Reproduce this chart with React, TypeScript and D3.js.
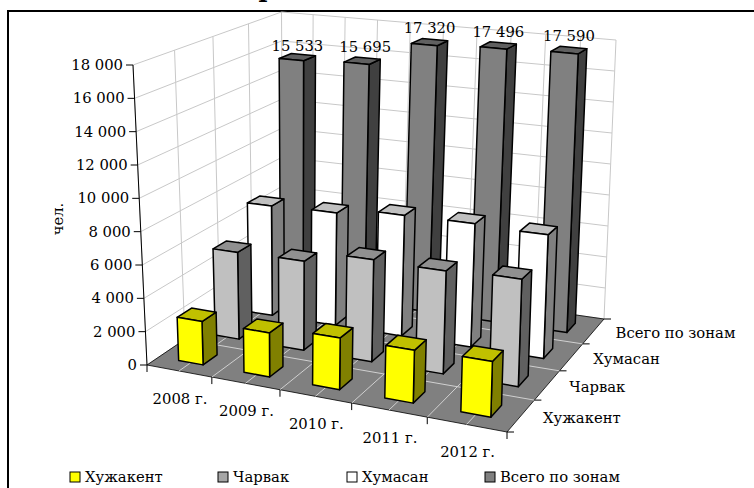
import React from 'react';
import * as d3 from 'd3';

const years = ['2008 г.', '2009 г.', '2010 г.', '2011 г.', '2012 г.'];
const zones = ['Хужакент', 'Чарвак', 'Хумасан', 'Всего по зонам'];
const khuzhakent = [2600, 2600, 3000, 3000, 3100];
const charvak = [5400, 5450, 6150, 6100, 6250];
const khumasan = [7050, 7150, 7550, 7600, 7500];
const total = [15533, 15695, 17320, 17496, 17590];
const series = [khuzhakent, charvak, khumasan, total];
const yTicks = d3.range(0, 18001, 2000);
const legendX = [70, 218, 347, 485];
// the value labels do not sit quite evenly above their bars
const labelDx = [0, 3, 0, 0, 0];
const labelDy = [3, 0, 0, 1, 0];

const colors = [
  { front: '#ffff00', top: '#c0c000', side: '#808000' },
  { front: '#c0c0c0', top: '#909090', side: '#606060' },
  { front: '#ffffff', top: '#c0c0c0', side: '#808080' },
  { front: '#808080', top: '#606060', side: '#404040' },
];
const legendColors = ['#ffff00', '#a6a6a6', '#ffffff', '#808080'];
const FONT = '"DejaVu Serif", serif';
const TEXT = 14.8;

type Pt = [number, number];

// homography from the unit square to four picture corners
function squareToQuad(p00: Pt, p10: Pt, p11: Pt, p01: Pt) {
  const dx1 = p10[0] - p11[0], dx2 = p01[0] - p11[0], sx = p00[0] - p10[0] + p11[0] - p01[0];
  const dy1 = p10[1] - p11[1], dy2 = p01[1] - p11[1], sy = p00[1] - p10[1] + p11[1] - p01[1];
  const den = dx1 * dy2 - dx2 * dy1;
  const g = (sx * dy2 - dx2 * sy) / den;
  const h = (dx1 * sy - sx * dy1) / den;
  const a = p10[0] - p00[0] + g * p10[0], b = p01[0] - p00[0] + h * p01[0], c = p00[0];
  const d = p10[1] - p00[1] + g * p10[1], e = p01[1] - p00[1] + h * p01[1], f = p00[1];
  return (u: number, v: number): Pt => {
    const w = g * u + h * v + 1;
    return [(a * u + b * v + c) / w, (d * u + e * v + f) / w];
  };
}

const floorMap = squareToQuad([147, 365], [507, 432], [604, 319], [283, 273]);
const ceilMap = squareToQuad([133, 65], [516, 102], [616, 40], [281.5, 12]);

const uScale = d3.scaleLinear().domain([0, years.length]).range([0, 1]);
const vScale = d3.scaleLinear().domain([0, zones.length]).range([0, 1]);
const zScale = d3.scaleLinear().domain([0, 18000]).range([0, 1]);

// category units, series units, value -> screen
function project(cat: number, ser: number, val: number): Pt {
  const u = uScale(cat), v = vScale(ser), t = zScale(val);
  const a = floorMap(u, v), b = ceilMap(u, v);
  return [a[0] + (b[0] - a[0]) * t, a[1] + (b[1] - a[1]) * t];
}

const poly = (pts: Pt[]) => d3.line()(pts) + 'Z';
const num = (v: number) => d3.format(',')(v).replace(',', ' ');

const GAP = 0.31;

export default function App() {
  const bars: React.ReactNode[] = [];
  const labels: React.ReactNode[] = [];
  for (let s = zones.length - 1; s >= 0; s--) {
    series[s].forEach((val, c) => {
      const x0 = c + GAP, x1 = c + 1 - GAP, y0 = s + GAP, y1 = s + 1 - GAP;
      const c0 = colors[s];
      bars.push(
        <g key={`${s}-${c}`} stroke="#000" strokeWidth={1.5} strokeLinejoin="round">
          <path d={poly([project(x1, y0, 0), project(x1, y1, 0), project(x1, y1, val), project(x1, y0, val)])} fill={c0.side} />
          <path d={poly([project(x0, y0, val), project(x1, y0, val), project(x1, y1, val), project(x0, y1, val)])} fill={c0.top} />
          <path d={poly([project(x0, y0, 0), project(x1, y0, 0), project(x1, y0, val), project(x0, y0, val)])} fill={c0.front} />
        </g>
      );
      if (s === 3) {
        const p = project(c + 0.5, s + 0.5, val);
        labels.push(
          <text key={c} x={p[0] + labelDx[c]} y={p[1] - 9 + labelDy[c]} textAnchor="middle" fontSize={TEXT} fill="#000">
            {num(val)}
          </text>
        );
      }
    });
  }

  const nc = years.length, ns = zones.length;
  const grid = '#c8c8c8';

  return (
    <svg width={754} height={488} style={{ position: 'absolute', left: 0, top: 0 }} fontFamily={FONT}>
      <rect width={754} height={488} fill="#fff" />
      {/* the title is cut by the picture's top edge, only this descender shows */}
      <text x={267} y={-3} textAnchor="middle" fontSize={24} fontWeight="bold">р</text>
      <path d="M8,488V11H754" fill="none" stroke="#000" strokeWidth={2} />

      {/* walls */}
      {yTicks.map(t => (
        <path key={t} stroke={grid} fill="none" d={d3.line()([project(0, 0, t), project(0, ns, t), project(nc, ns, t)]) || ''} />
      ))}
      {d3.range(0, nc + 0.5, 0.5).map(c => (
        <line key={c} stroke={grid} x1={project(c, ns, 0)[0]} y1={project(c, ns, 0)[1]} x2={project(c, ns, 18000)[0]} y2={project(c, ns, 18000)[1]} />
      ))}
      {d3.range(0, ns).map(s => (
        <line key={s} stroke={grid} x1={project(0, s, 0)[0]} y1={project(0, s, 0)[1]} x2={project(0, s, 18000)[0]} y2={project(0, s, 18000)[1]} />
      ))}

      {/* floor */}
      <path d={poly([project(0, 0, 0), project(nc, 0, 0), project(nc, ns, 0), project(0, ns, 0)])} fill="#808080" stroke="#000" strokeWidth={0.8} />
      {d3.range(0.5, nc, 0.5).map(c => (
        <line key={c} stroke="#d0d0d0" x1={project(c, 0, 0)[0]} y1={project(c, 0, 0)[1]} x2={project(c, ns, 0)[0]} y2={project(c, ns, 0)[1]} />
      ))}
      {d3.range(1, ns).map(s => (
        <line key={s} stroke="#d0d0d0" x1={project(0, s, 0)[0]} y1={project(0, s, 0)[1]} x2={project(nc, s, 0)[0]} y2={project(nc, s, 0)[1]} />
      ))}

      {/* value axis */}
      <line x1={project(0, 0, 0)[0]} y1={project(0, 0, 0)[1]} x2={project(0, 0, 18000)[0]} y2={project(0, 0, 18000)[1]} stroke="#000" />
      {yTicks.map(t => {
        const p = project(0, 0, t);
        return (
          <g key={t}>
            <line x1={p[0] - 7} x2={p[0]} y1={p[1]} y2={p[1]} stroke="#000" />
            <text x={p[0] - 10} y={p[1] + 5} textAnchor="end" fontSize={TEXT} fill="#000">{num(t)}</text>
          </g>
        );
      })}
      <text transform="translate(63,219) rotate(-90)" textAnchor="middle" fontSize={TEXT} fill="#000">чел.</text>

      {/* category axis */}
      {d3.range(0, nc + 1).map(c => {
        const p = project(c, 0, 0);
        return <line key={c} x1={p[0]} x2={p[0]} y1={p[1]} y2={p[1] + 7} stroke="#000" />;
      })}
      {years.map((y, c) => {
        const p = project(c + 0.5, 0, 0);
        return <text key={y} x={p[0] + 1} y={p[1] + 33} textAnchor="middle" fontSize={TEXT} fill="#000">{y}</text>;
      })}

      {/* series axis */}
      {d3.range(0, ns + 1).map(s => {
        const p = project(nc, s, 0);
        return <line key={s} x1={p[0]} x2={p[0] + 7} y1={p[1]} y2={p[1]} stroke="#000" />;
      })}
      {zones.map((z, s) => {
        const p = project(nc, s + 0.5, 0);
        return <text key={z} x={p[0] + 22} y={p[1] + 7} fontSize={TEXT} fill="#000">{z}</text>;
      })}

      {bars}
      {labels}

      {/* legend */}
      {zones.map((z, i) => (
        <g key={z}>
          <rect x={legendX[i]} y={472} width={10} height={10} fill={legendColors[i]} stroke="#000" />
          <text x={legendX[i] + 15} y={482} fontSize={TEXT} fill="#000">{z}</text>
        </g>
      ))}
    </svg>
  );
}
